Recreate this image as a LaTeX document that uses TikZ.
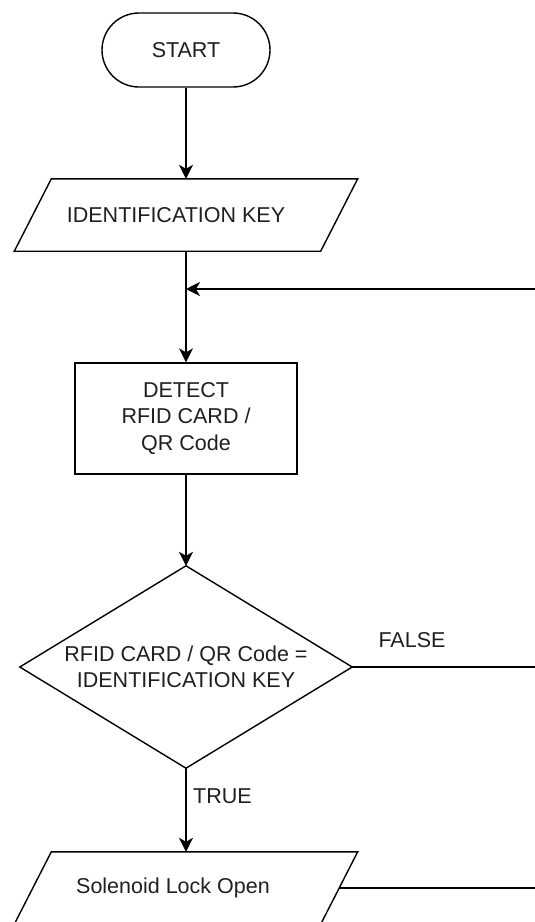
\documentclass[tikz,border=0pt]{standalone}
\usepackage{fontspec}
\setmainfont{Liberation Sans}
\usetikzlibrary{arrows.meta,calc}
\begin{document}
\begin{tikzpicture}[x=1pt,y=-1pt,
  line/.style={draw=black,line width=1.4pt},
  arw/.style={line,-{Stealth[length=14pt,width=14pt,inset=4pt]}},
  txt/.style={text=black!88,font=\fontsize{21.5}{26.5}\selectfont,align=center,inner sep=0pt},
  startbox/.style={line,rounded corners=37pt,minimum width=168pt,minimum height=74pt,inner sep=0pt,txt},
  procbox/.style={line,minimum width=222pt,minimum height=111pt,inner sep=0pt,txt},
  iofrm/.style={minimum width=306pt,minimum height=72pt,inner sep=0pt},
  decfrm/.style={minimum width=332pt,minimum height=202pt,inner sep=0pt}]
\useasboundingbox (0,0) rectangle (535,922);

% START
\node[startbox] (start) at (186,50) {START};

% Input: IDENTIFICATION KEY
\node[iofrm] (p1) at (186,215) {};
\draw[line,line join=miter] ([xshift=18.5pt]p1.north west) -- ([xshift=18.5pt]p1.north east)
  -- ([xshift=-18.5pt]p1.south east) -- ([xshift=-18.5pt]p1.south west) -- cycle;
\node[txt] (p1t) at (176,215) {IDENTIFICATION KEY};

% Process: DETECT
\node[procbox] (detect) at (186,418.5) {DETECT\\RFID CARD /\\QR Code};

% Decision
\node[decfrm] (dec) at (186,667) {};
\draw[line,line join=miter] (dec.north) -- (dec.east) -- (dec.south) -- (dec.west) -- cycle;
\node[txt] (dect) at (186,667) {RFID CARD / QR Code =\\IDENTIFICATION KEY};

% Output: Solenoid Lock Open
\node[iofrm] (p2) at (186,888) {};
\draw[line,line join=miter] ([xshift=18.5pt]p2.north west) -- ([xshift=18.5pt]p2.north east)
  -- ([xshift=-18.5pt]p2.south east) -- ([xshift=-18.5pt]p2.south west) -- cycle;
\node[txt] (p2t) at (173,888) {Solenoid Lock Open};

% free ends at the right edge
\coordinate (fbR) at (536,289);
\coordinate (falseR) at (536,667);
\coordinate (lockR) at (536,888);

% connectors
\draw[arw] (start.south) -- (p1.north);
\draw[arw] (p1.south) -- (detect.north);
\draw[arw] (fbR) -- (fbR -| p1.south);
\draw[arw] (detect.south) -- (dec.north);
\draw[line] (dec.east) -- (falseR);
\draw[arw] (dec.south) -- (p2.north);
\draw[line] (p2.east) -- (lockR);

% labels
\node[txt] (lfalse) at (412,640) {FALSE};
\node[txt] (ltrue) at (222.5,796) {TRUE};
\end{tikzpicture}
\end{document}
